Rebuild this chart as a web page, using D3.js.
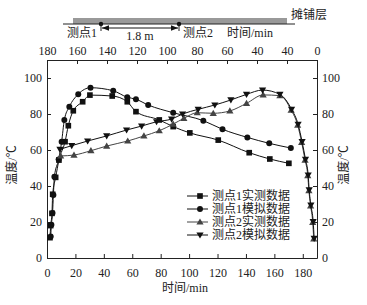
<!DOCTYPE html>
<html>
<head>
  <script src="https://d3js.org/d3.v7.min.js"></script>
  <style>
    html, body {
      margin: 0px;
      padding: 0px;
      background: #fff;
    }
    svg text {
      font-family: "Liberation Serif", "Noto Sans CJK SC", serif;
      font-size: 12px;
      fill: #222;
    }
    .axis path, .axis line {
      stroke: #222;
    }
  </style>
</head>
<body>
  <div id="chart"></div>
  <script>

      // data: time (min), temperature (C)
      const p1MeasT = [2.1, 2.6, 3.5, 4, 6.1, 8.4, 12.7, 15, 18.5, 25.1, 30.2, 45.9, 56.5, 62.6, 79, 88.8, 100.5, 120.5, 142.3, 156.8, 170.2];
      const p1MeasV = [11.3, 18, 24.8, 35.4, 44.8, 54.4, 64.6, 73.5, 81.8, 86.8, 90.5, 90, 86.8, 81.3, 76.7, 73, 69.5, 65.5, 58.5, 55, 52.6];

      const p1SimT = [2.6, 3.1, 3.9, 4.5, 5.2, 8.2, 10.3, 12.2, 15.7, 22, 30.6, 46.6, 56.5, 62.6, 71.2, 88.8, 110, 123.5, 141, 156.4, 171.6];
      const p1SimV = [12, 18.5, 25, 35, 45.2, 54.8, 64.6, 76.7, 84, 91, 94.6, 92.9, 89.3, 88.2, 85, 80.7, 76.3, 71.5, 67, 63.7, 61.1];

      const p2MeasT = [9.6, 19, 30.9, 42, 56.8, 68.2, 79, 88.8, 96.3, 105.7, 117, 128.7, 140.4, 152.1, 163.9, 171.8, 176.4, 179.2, 181.6, 183.5, 184.3, 185.5, 187, 187.7];
      const p2MeasV = [56.7, 57.2, 59.6, 62.2, 65, 67.8, 70.7, 74.4, 77.6, 80.7, 80.4, 81.7, 85.9, 90.6, 90.2, 82.2, 73.8, 64.2, 54.4, 45.8, 37.4, 29, 19.8, 10.6];

      const p2SimT = [9.1, 17.4, 28.6, 42, 56, 66.6, 77.1, 87.7, 95.4, 106.4, 118.1, 129.4, 140.4, 151.7, 163.9, 172.1, 176.7, 179.5, 181.9, 183.8, 184.5, 185.7, 187.3, 188];
      const p2SimV = [60.4, 62.4, 65, 67.8, 71.1, 73.3, 75.7, 77.2, 80, 82.6, 85, 87.8, 90.9, 93.3, 90.9, 82.6, 74.3, 64.6, 54.8, 46.1, 37.8, 29.4, 20.2, 10.9];

      const seriesNames = ["测点1实测数据", "测点1模拟数据", "测点2实测数据", "测点2模拟数据"];
      const seriesShapes = ["square", "circle", "up", "down"];
      const seriesColors = ["#111", "#111", "#444", "#111"];

      const bottomTicks = [0, 20, 40, 60, 80, 100, 120, 140, 160, 180];
      const yTicks = [0, 20, 40, 60, 80, 100];
      const topTickLabels = ["180", "160", "140", "120", "100", "80", "60", "40", "40", "0"];

      const width = 367;
      const height = 305;
      const margin = {top: 60, left: 47, right: 50, bottom: 47};

      const svg = d3.select("#chart")
        .append("svg")
        .attr("width", width)
        .attr("height", height);

      const xScale = d3.scaleLinear()
        .domain([0, 190])
        .range([margin.left, width - margin.right]);

      const yScale = d3.scaleLinear()
        .domain([0, 110])
        .range([height - margin.bottom, margin.top]);

      // top axis labels are evenly spaced, so it gets its own index scale
      const topScale = d3.scaleLinear()
        .domain([0, topTickLabels.length - 1])
        .range([margin.left, width - margin.right]);

      /*
      AXES, ticks point inward
      */
      svg.append("g")
        .attr("class", "axis")
        .attr("transform", `translate(0,${height - margin.bottom})`)
        .call(d3.axisBottom(xScale).tickValues(bottomTicks).tickSizeInner(-4).tickSizeOuter(0).tickPadding(10));

      svg.append("g")
        .attr("class", "axis")
        .attr("transform", `translate(0,${margin.top})`)
        .call(d3.axisTop(topScale).tickValues(d3.range(topTickLabels.length))
          .tickFormat(i => topTickLabels[i]).tickSizeInner(-4).tickSizeOuter(0).tickPadding(5));

      svg.append("g")
        .attr("class", "axis")
        .attr("transform", `translate(${margin.left},0)`)
        .call(d3.axisLeft(yScale).tickValues(yTicks).tickSizeInner(-4).tickSizeOuter(0).tickPadding(5));

      svg.append("g")
        .attr("class", "axis")
        .attr("transform", `translate(${width - margin.right},0)`)
        .call(d3.axisRight(yScale).tickValues(yTicks).tickSizeInner(-4).tickSizeOuter(0).tickPadding(5));

      svg.selectAll(".axis text").attr("font-size", 12).attr("fill", "#222");

      // axis titles
      svg.append("text")
        .attr("x", 185)
        .attr("y", 292)
        .attr("text-anchor", "middle")
        .text("时间/min");

      svg.append("text")
        .attr("transform", "translate(16,165) rotate(-90)")
        .attr("text-anchor", "middle")
        .text("温度/℃");

      svg.append("text")
        .attr("transform", "translate(348,165) rotate(-90)")
        .attr("text-anchor", "middle")
        .text("温度/℃");

      /*
      PAVING LAYER SKETCH ABOVE THE CHART
      */
      const p1x = 101, p2x = 179;
      svg.append("rect")
        .attr("x", 73).attr("y", 18)
        .attr("width", 214).attr("height", 6)
        .attr("fill", "#999");
      svg.append("line")
        .attr("x1", 63).attr("x2", 295).attr("y1", 24).attr("y2", 24)
        .attr("stroke", "#222").attr("stroke-width", 1);
      svg.append("text").attr("x", 291).attr("y", 19).text("摊铺层");
      svg.selectAll(".probe").data([p1x, p2x]).enter()
        .append("circle")
        .attr("cx", d => d).attr("cy", 24).attr("r", 2.2).attr("fill", "#111");
      svg.selectAll(".probeTick").data([p1x, p2x]).enter()
        .append("line")
        .attr("x1", d => d).attr("x2", d => d).attr("y1", 24).attr("y2", 31)
        .attr("stroke", "#222");
      svg.append("defs").append("marker")
        .attr("id", "arrow").attr("viewBox", "0 0 10 10")
        .attr("refX", 10).attr("refY", 5)
        .attr("markerWidth", 6).attr("markerHeight", 6)
        .attr("orient", "auto-start-reverse")
        .append("path").attr("d", "M0,1L10,5L0,9Z").attr("fill", "#111");
      svg.append("line")
        .attr("x1", p1x + 1).attr("x2", p2x - 1).attr("y1", 28).attr("y2", 28)
        .attr("stroke", "#111").attr("stroke-width", 1.2)
        .attr("marker-start", "url(#arrow)").attr("marker-end", "url(#arrow)");
      svg.append("text").attr("x", 140).attr("y", 40).attr("text-anchor", "middle").text("1.8 m");
      svg.append("text").attr("x", 97).attr("y", 37).attr("text-anchor", "end").text("测点1");
      svg.append("text").attr("x", 183).attr("y", 37).text("测点2");
      svg.append("text").attr("x", 227).attr("y", 37).text("时间/min");

      /*
      LINES AND MARKERS
      */
      const series = [
        {t: p1MeasT, v: p1MeasV},
        {t: p1SimT, v: p1SimV},
        {t: p2MeasT, v: p2MeasV},
        {t: p2SimT, v: p2SimV}
      ].map((s, i) => ({
        name: seriesNames[i], shape: seriesShapes[i], color: seriesColors[i],
        values: s.t.map((t, j) => ({t: t, v: s.v[j]}))
      }));

      const line = d3.line()
        .x(d => xScale(d.t))
        .y(d => yScale(d.v))
        .curve(d3.curveMonotoneX);

      function markerPath(shape) {
        if (shape === "square") return d3.symbol(d3.symbolSquare, 32)();
        if (shape === "circle") return d3.symbol(d3.symbolCircle, 28)();
        if (shape === "up") return "M0,-3.6L3.6,2.6L-3.6,2.6Z";
        return "M0,3.6L3.6,-2.6L-3.6,-2.6Z";
      }

      series.forEach(s => {
        svg.append("path")
          .datum(s.values)
          .attr("d", line)
          .attr("fill", "none")
          .attr("stroke", s.color)
          .attr("stroke-width", 1);

        svg.selectAll(null)
          .data(s.values)
          .enter()
          .append("path")
          .attr("d", markerPath(s.shape))
          .attr("transform", d => `translate(${xScale(d.t)},${yScale(d.v)})`)
          .attr("fill", s.color);
      });

      /*
      LEGEND
      */
      const legend = svg.append("g");
      series.forEach((s, i) => {
        const y = 196 + i * 13;
        legend.append("line")
          .attr("x1", 187).attr("x2", 208).attr("y1", y).attr("y2", y)
          .attr("stroke", s.color);
        legend.append("path")
          .attr("d", markerPath(s.shape))
          .attr("transform", `translate(200,${y})`)
          .attr("fill", s.color);
        legend.append("text")
          .attr("x", 212).attr("y", y + 4)
          .text(s.name);
      });

  </script>
</body>
</html>
